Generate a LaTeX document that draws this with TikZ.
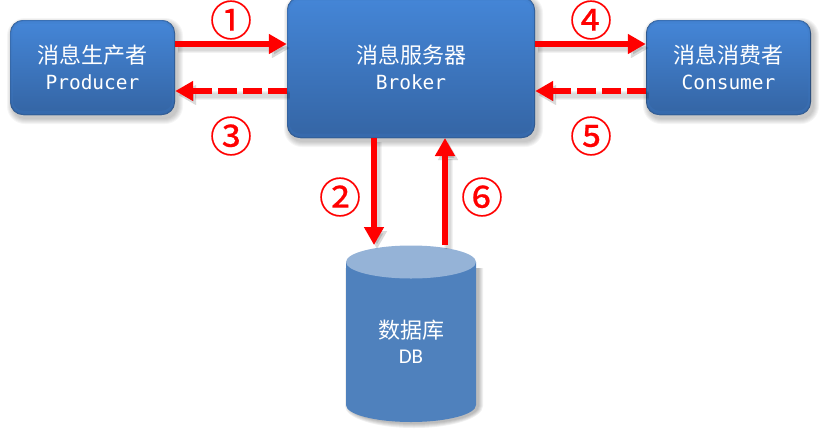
\documentclass[tikz,border=0pt]{standalone}
\usepackage{fontspec}
\usetikzlibrary{arrows.meta,calc}
\newfontfamily\cjk{Noto Sans CJK SC}
\newfontfamily\numfam[FakeBold=0.5]{Noto Sans CJK SC}
\newfontfamily\monofam{DejaVu Sans Mono}
\newfontfamily\latinfam{Carlito}
\definecolor{boxtop}{HTML}{4485D6}
\definecolor{boxbot}{HTML}{3566A6}
\definecolor{boxedgetop}{HTML}{6FA8E8}
\definecolor{boxedgebot}{HTML}{2B4F7E}
\definecolor{dbbody}{HTML}{4F81BD}
\definecolor{dbtop}{HTML}{95B3D7}
\pgfdeclareverticalshading{boxrim}{100bp}{
  color(0bp)=(boxedgebot); color(8bp)=(boxedgebot); color(18bp)=(boxbot);
  color(80bp)=(boxtop); color(92bp)=(boxedgetop); color(100bp)=(boxedgetop)}
\pgfdeclareverticalshading{boxface}{100bp}{
  color(0bp)=(boxbot); color(25bp)=(boxbot); color(75bp)=(boxtop); color(100bp)=(boxtop)}
\tikzset{
  x=1pt,y=-1pt,
  rim/.style={rounded corners=#1,shading=boxrim,shading angle=0},
  face/.style={rounded corners=#1,shading=boxface,shading angle=0},
  labelbox/.style={inner sep=0pt,align=center,text=white,font=\cjk\fontsize{22}{27}\selectfont},
  en/.style={font=\monofam\fontsize{19.5}{24}\selectfont},
  num/.style={text=red,inner sep=0pt,font=\numfam\fontsize{42}{42}\selectfont},
  flow/.style={line width=6.4pt,draw=red,-{Triangle[length=18pt,width=19pt,fill=red]}},
  back/.style={flow,dash pattern=on 19pt off 6pt},
}
% soft drop shadow made of stacked translucent outlines
\newcommand{\softshadow}[5]{%
  \foreach \g in {6,5,4,3,2,1}{
    \fill[black,opacity=.04,rounded corners=#5+\g]
      (#1+3-\g,#2+4-\g) rectangle (#3+2+\g,#4+3+\g);}%
}
% rounded panel with a bevelled rim
\newcommand{\panel}[6]{%
  \softshadow{#2}{#3}{#4}{#5}{12}
  \fill[boxedgebot,rounded corners=13] (#2,#3) rectangle (#4,#5);
  \shade[rim=13] (#2+.5,#3) rectangle (#4-.5,#5);
  \draw[boxedgebot,opacity=.35,line width=1pt,rounded corners=13] (#2+.5,#3+.5) rectangle (#4-.5,#5-.5);
  \shade[face=10] (#2+3,#3+3.5) rectangle (#4-3,#5-4.5);
  \node[labelbox,minimum width=#4-#2,minimum height=#5-#3] (#1) at ({(#2+#4)/2},{(#3+#5)/2}) {};
}
\begin{document}
\begin{tikzpicture}
\useasboundingbox (0,0) rectangle (833,429);
\clip (0,0) rectangle (833,429);

\panel{producer}{10}{20}{175}{115}{}
\panel{broker}{287}{-3}{535}{138}{}
\panel{consumer}{646}{20}{811}{115}{}

\node[labelbox] (ptxt) at (92.5,55) {消息生产者};
\node[labelbox,en] (pen) at (92.5,82) {Producer};
\node[labelbox] (btxt) at (411,55) {消息服务器};
\node[labelbox,en] (ben) at (411,82) {Broker};
\node[labelbox] (ctxt) at (728.5,55) {消息消费者};
\node[labelbox,en] (cen) at (728.5,82) {Consumer};

% database cylinder
\foreach \g in {5,4,3,2,1}{
  \fill[black,opacity=.06] (350-\g,268) -- (478+\g,268) -- (478+\g,406)
    arc[start angle=0,end angle=180,x radius=64+\g,y radius=17+\g] -- cycle;}
\fill[dbbody] (346,262) -- (476,262) -- (476,405)
  arc[start angle=0,end angle=180,x radius=65,y radius=17] -- cycle;
\fill[dbtop] (411,262) ellipse[x radius=65,y radius=16.5];
\node[labelbox] (dtxt) at (411,330) {数据库};
\node[labelbox,font=\latinfam\fontsize{21}{24}\selectfont] (den) at (411,357) {DB};
\coordinate (dbin) at (374,245);
\coordinate (dbout) at (445,245);

% message flows
\coordinate (b1) at (broker.west |- 0,44);
\coordinate (p1) at (producer.east |- 0,44);
\coordinate (b3) at (broker.west |- 0,91);
\coordinate (p3) at (producer.east |- 0,91);
\coordinate (b4) at (broker.east |- 0,44);
\coordinate (c4) at (consumer.west |- 0,44);
\coordinate (b5) at (broker.east |- 0,91);
\coordinate (c5) at (consumer.west |- 0,91);
\coordinate (b2) at (374,138);
\coordinate (b6) at (445,138);

\foreach \u/\v in {p1/b1,b4/c4,b3/p3,c5/b5,b2/dbin,dbout/b6}{
  \foreach \w in {9,7,5}{
    \draw[line width=\w pt,black,opacity=.05,
      -{Triangle[length=18pt,width=19pt,fill=black]}]
      ($(\u)+(3,4)$) -- ($(\v)+(3,4)$);}
}
\draw[flow] (p1) -- (b1);
\draw[back] (b3) -- (p3);
\draw[flow] (b4) -- (c4);
\draw[back] (c5) -- (b5);
\draw[flow] (b2) -- (dbin);
\draw[flow] (dbout) -- (b6);

\node[num] (n1) at (231,20) {①};
\node[num] (n2) at (340,197) {②};
\node[num] (n3) at (231,136) {③};
\node[num] (n4) at (591,20) {④};
\node[num] (n5) at (591,136) {⑤};
\node[num] (n6) at (482,197) {⑥};
\end{tikzpicture}
\end{document}
